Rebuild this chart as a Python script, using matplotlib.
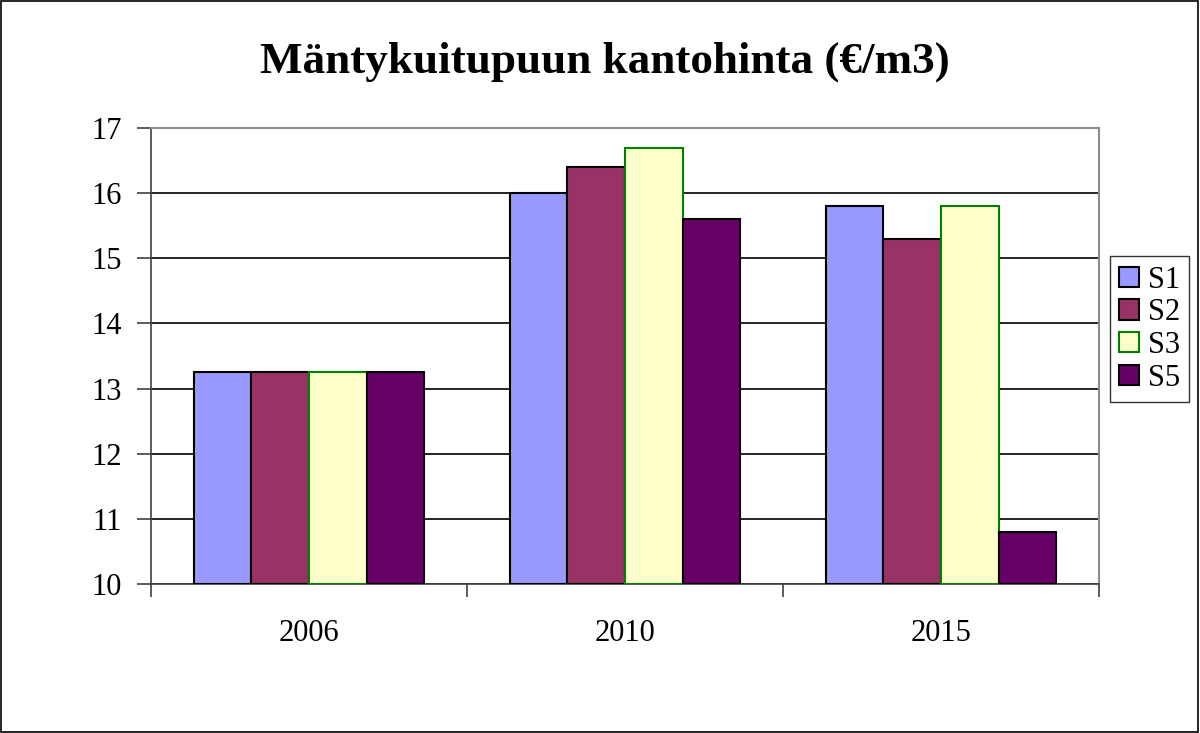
import matplotlib
matplotlib.use("Agg")
import matplotlib.pyplot as plt
import numpy as np
from matplotlib.patches import Rectangle

categories = ["2006", "2010", "2015"]
series_names = ["S1", "S2", "S3", "S5"]
s1 = [13.25, 16.0, 15.8]
s2 = [13.25, 16.4, 15.3]
s3 = [13.25, 16.7, 15.8]
s5 = [13.25, 15.6, 10.8]
yticks = [10, 11, 12, 13, 14, 15, 16, 17]

values = [s1, s2, s3, s5]
faces = ["#9999FF", "#993366", "#FFFFCC", "#660066"]
edges = ["black", "black", "#008000", "black"]

plt.rcParams['font.family'] = ['Liberation Serif', 'DejaVu Serif']

fig = plt.figure(figsize=(12, 7.33), dpi=100)
ax = fig.add_axes([151/1200, 1-584/733, (1099-151)/1200, (584-128)/733])

x = np.arange(len(categories))
w = 0.182
offsets = [-1.5, -0.5, 0.5, 1.5]
for vals, fc, ec, off, name in zip(values, faces, edges, offsets, series_names):
    ax.bar(x + off*w, np.array(vals) - 10, bottom=10, width=w, color=fc,
           edgecolor=ec, linewidth=1.5, label=name, zorder=3)

ax.set_ylim(10, 17)
ax.set_xlim(-0.5, 2.5)
ax.set_yticks(yticks)
ax.set_yticklabels([str(t) for t in yticks])
ax.set_xticks(x)
ax.set_xticklabels(categories)
ax.set_xticks([-0.5, 0.5, 1.5, 2.5], minor=True)
ax.tick_params(axis='x', which='major', length=0, pad=25, labelsize=22)
ax.tick_params(axis='x', which='minor', length=9, width=1.2, color='#404040', direction='out')
ax.tick_params(axis='y', which='major', length=10, width=1.2, color='#404040', pad=11, labelsize=22, direction='out')
ax.yaxis.grid(True, color='black', linewidth=1.2, zorder=0)
ax.set_axisbelow(True)
for s in ['top', 'right']:
    ax.spines[s].set_color('#8c8c8c')
    ax.spines[s].set_linewidth(1.5)
for s in ['left', 'bottom']:
    ax.spines[s].set_color('#404040')
    ax.spines[s].set_linewidth(1.2)

fig.text(0.5 + 5/1200, 1-73/733, "Mäntykuitupuun kantohinta (€/m3)", ha='center', va='baseline',
         fontsize=32.5, fontweight='bold')

leg = fig.legend(loc='center left', bbox_to_anchor=(1110/1200, 1-329/733), fontsize=22,
                 frameon=True, fancybox=False, edgecolor='black', handlelength=0.65,
                 handleheight=0.65, handletextpad=0.3, borderpad=0.3, labelspacing=0.12,
                 borderaxespad=0)
leg.get_frame().set_linewidth(1.0)

fig.patches.append(Rectangle((0.0005, 0.0007), 0.998, 0.998, transform=fig.transFigure,
                             fill=False, edgecolor='black', linewidth=1.2))

fig.savefig("out.png", dpi=100)
